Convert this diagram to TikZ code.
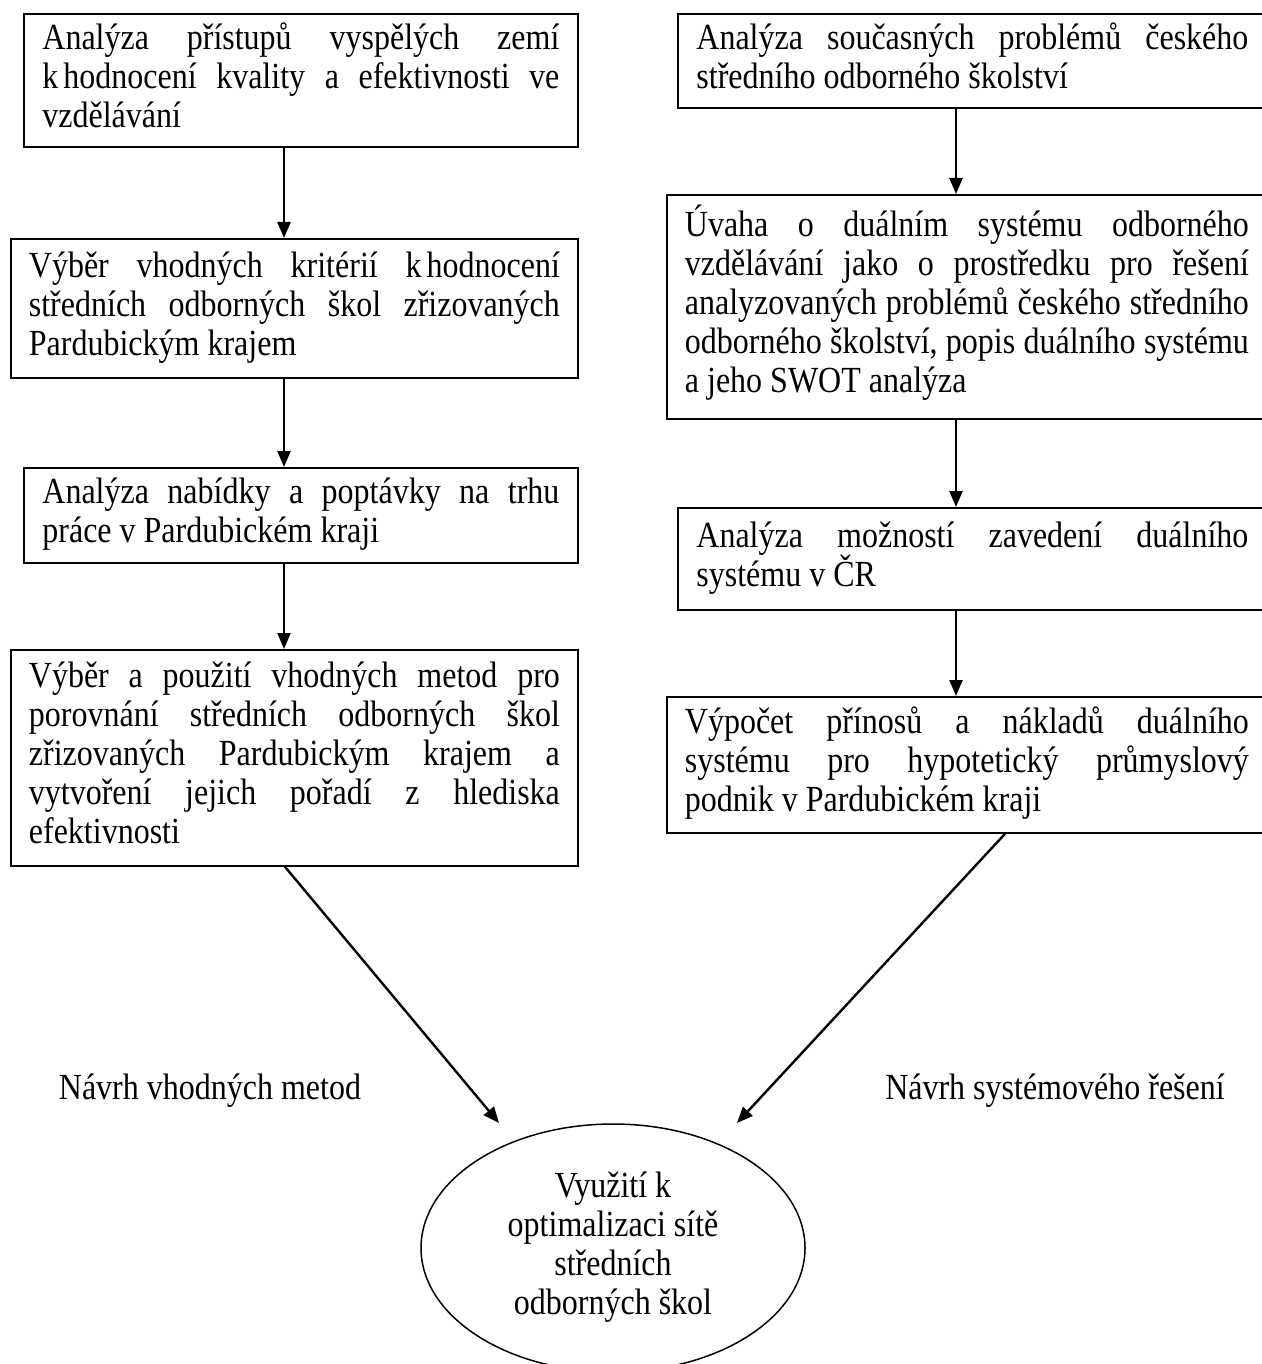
\documentclass[tikz,border=0pt]{standalone}
\usepackage{fontspec}
\usepackage{graphicx}
\setmainfont{Liberation Serif}
\usetikzlibrary{arrows.meta,shapes.geometric}
% text is a little taller than plain Times in the reference
\newcommand\vs[1]{\smash{\scalebox{1}[1.15]{#1}}}
% justified lines of fixed width (one macro per text width)
\newcommand\jset{\spaceskip=.25em plus 1fil\relax\xspaceskip=0pt\relax\frenchspacing}
\newcommand\jA[1]{\leavevmode\strut\vs{\hbox to 258.5pt{\jset #1}}}
\newcommand\jB[1]{\leavevmode\strut\vs{\hbox to 265.5pt{\jset #1}}}
\newcommand\jC[1]{\leavevmode\strut\vs{\hbox to 276pt{\jset #1}}}
\newcommand\jD[1]{\leavevmode\strut\vs{\hbox to 282pt{\jset #1}}}
% ragged line with normal word spaces
\newcommand\nl[1]{\leavevmode\strut\vs{\hbox{\spaceskip=0pt\relax\xspaceskip=0pt\relax #1}}}
\begin{document}
\begin{tikzpicture}[x=0.5pt,y=-0.5pt,
  txt/.style={font=\fontsize{16pt}{19.5pt}\selectfont},
  box/.style={txt,draw,line width=0.9pt,anchor=north west,inner sep=0pt,align=left},
  lbox/.style={box,minimum width=277pt,text width=258.5pt},
  wlbox/.style={box,minimum width=283.5pt,text width=265.5pt},
  rbox/.style={box,minimum width=294.5pt,text width=276pt},
  wrbox/.style={box,minimum width=300pt,text width=282pt},
  arr/.style={line width=1.2pt,-{Triangle[length=8pt,width=6.5pt]}},
  lab/.style={txt,inner sep=0pt}]
\useasboundingbox (0,0) rectangle (1262,1364);
% left column
\node[lbox,minimum height=66.5pt] (L1) at (23,13) {%
\jA{Analýza přístupů vyspělých zemí}\\
\jA{k\kern2.5pt hodnocení kvality a efektivnosti ve}\\
\nl{vzdělávání}};
\node[wlbox,minimum height=69.5pt] (L2) at (10,238) {%
\jB{Výběr vhodných kritérií k\kern2.5pt hodnocení}\\
\jB{středních odborných škol zřizovaných}\\
\nl{Pardubickým krajem}};
\node[lbox,minimum height=47.5pt] (L3) at (23,467) {%
\jA{Analýza nabídky a poptávky na trhu}\\
\nl{práce v Pardubickém kraji}};
\node[wlbox,minimum height=108pt] (L4) at (10,649) {%
\jB{Výběr a použití vhodných metod pro}\\
\jB{porovnání středních odborných škol}\\
\jB{zřizovaných Pardubickým krajem a}\\
\jB{vytvoření jejich pořadí z hlediska}\\
\nl{efektivnosti}};
% right column
\node[rbox,minimum height=47pt] (R1) at (677,13) {%
\jC{Analýza současných problémů českého}\\
\nl{středního odborného školství}};
\node[wrbox,minimum height=112pt] (R2) at (666,194) {%
\jD{Úvaha o duálním systému odborného}\\
\jD{vzdělávání jako o prostředku pro řešení}\\
\jD{analyzovaných problémů českého středního}\\
\jD{odborného školství, popis duálního systému}\\
\nl{a jeho SWOT analýza}};
\node[rbox,minimum height=51pt] (R3) at (677,507) {%
\jC{Analýza možností zavedení duálního}\\
\nl{systému v ČR}};
\node[wrbox,minimum height=68pt] (R4) at (666,696) {%
\jD{Výpočet přínosů a nákladů duálního}\\
\jD{systému pro hypotetický průmyslový}\\
\nl{podnik v Pardubickém kraji}};
% ellipse
\node[txt,ellipse,draw,line width=0.75pt,minimum width=192pt,minimum height=124pt,inner sep=0pt,align=center] (E) at (613,1248)
  {\nl{Využití k}\\\nl{optimalizaci sítě}\\\nl{středních}\\\nl{odborných škol}};
% labels
\node[lab] (N1) at (210,1092) {\nl{Návrh vhodných metod}};
\node[lab] (N2) at (1055,1092) {\nl{Návrh systémového řešení}};
% connectors
\coordinate (la) at (284,0);
\coordinate (ra) at (956,0);
\draw[arr] (L1.south -| la) -- (L2.north -| la);
\draw[arr] (L2.south -| la) -- (L3.north -| la);
\draw[arr] (L3.south -| la) -- (L4.north -| la);
\draw[arr] (R1.south -| ra) -- (R2.north -| ra);
\draw[arr] (R2.south -| ra) -- (R3.north -| ra);
\draw[arr] (R3.south -| ra) -- (R4.north -| ra);
\coordinate (ls) at (285,0);
\coordinate (lt) at (499,1123);
\coordinate (rs) at (1005,0);
\coordinate (rt) at (737,1123);
\draw[arr] (L4.south -| ls) -- (lt);
\draw[arr] (R4.south -| rs) -- (rt);
\end{tikzpicture}
\end{document}
